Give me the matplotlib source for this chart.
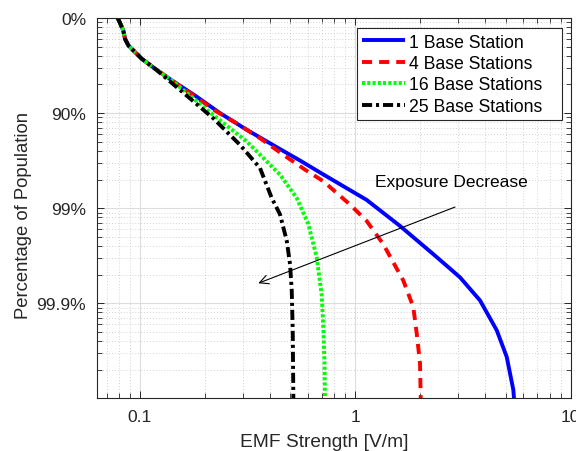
import matplotlib
matplotlib.use("Agg")
import matplotlib.pyplot as plt
import numpy as np
from matplotlib.ticker import NullFormatter, LogLocator

plt.rcParams['font.family'] = ['Liberation Sans', 'DejaVu Sans']

# EMF strength [V/m] and population percentile [%] per series
emf_1bs = [0.0788, 0.0806, 0.0837, 0.0853, 0.0884, 0.0949, 0.1019, 0.1175, 0.1405, 0.1802, 0.2353,
           0.3132, 0.4471, 0.5537, 0.6858, 1.129, 1.612, 2.302, 2.70, 3.063, 3.793, 4.534,
           5.045, 5.414, 5.455]
pct_1bs = [0, 10, 26.3, 39.7, 48.6, 56.2, 62.7, 70.7, 77.9, 84.7, 90.0,
           93.33, 95.82, 96.83, 97.63, 98.78, 99.35, 99.672, 99.76, 99.813, 99.893, 99.948,
           99.9727, 99.9877, 99.99]

emf_4bs = [0.0788, 0.0806, 0.0837, 0.0853, 0.0884, 0.0949, 0.1019, 0.1175, 0.1405, 0.1802, 0.2272,
           0.2815, 0.3610, 0.4632, 0.5841, 0.7101, 0.9449, 1.129, 1.349, 1.671, 1.859, 1.928,
           1.997, 2.012]
pct_4bs = [0, 10, 26.3, 39.7, 48.6, 56.2, 62.7, 70.7, 77.9, 85.06, 89.66,
           92.2, 94.56, 96.36, 97.46, 98.08, 98.91, 99.267, 99.583, 99.827, 99.909, 99.952,
           99.9767, 99.99]

emf_16bs = [0.0788, 0.0806, 0.0837, 0.0853, 0.0884, 0.0949, 0.1019, 0.1175, 0.1405, 0.2192,
            0.3132, 0.4471, 0.5342, 0.6050, 0.6620, 0.6983, 0.7101, 0.7194, 0.7233]
pct_16bs = [0, 10, 26.3, 39.7, 48.6, 56.2, 62.7, 70.7, 77.9, 90.47,
            94.97, 97.75, 98.72, 99.32, 99.697, 99.879, 99.944, 99.9767, 99.99]

emf_25bs = [0.0788, 0.0806, 0.0837, 0.0853, 0.0884, 0.0949, 0.1019, 0.1175, 0.1709, 0.2192,
            0.2915, 0.3610, 0.4091, 0.4471, 0.4805, 0.4976, 0.5068, 0.5123, 0.5156]
pct_25bs = [0, 10, 26.3, 39.7, 48.6, 56.2, 62.7, 70.7, 85.76, 91.2,
            95.37, 97.36, 98.72, 99.14, 99.547, 99.742, 99.864, 99.948, 99.99]

labels = ['1 Base Station', '4 Base Stations', '16 Base Stations', '25 Base Stations']
ytick_labels = ['0%', '90%', '99%', '99.9%']
ytick_pct = [0, 90, 99, 99.9]
xtick_vals = [0.1, 1, 10]
xtick_labels = ['0.1', '1', '10']

fig = plt.figure(figsize=(5.76, 4.52), dpi=100)
ax = fig.add_axes([97.3 / 576, 1 - 399.3 / 452, (570.7 - 97.3) / 576, (399.3 - 19) / 452])

def q(p):
    return 1 - np.asarray(p, dtype=float) / 100.0

lw = 2.8
pad = '   '
ax.plot(emf_1bs, q(pct_1bs), color=(0, 0, 1), lw=lw, solid_capstyle='butt', label=labels[0] + pad)
ax.plot(emf_4bs, q(pct_4bs), color=(1, 0, 0), lw=lw, dashes=(2.6, 1.8), label=labels[1])
ax.plot(emf_16bs, q(pct_16bs), color=(0, 1, 0), lw=lw, dashes=(0.8, 0.55), label=labels[2] + pad)
ax.plot(emf_25bs, q(pct_25bs), color='k', lw=lw, dashes=(2.6, 1.0, 0.8, 1.0), label=labels[3])

ax.set_xscale('log')
ax.set_yscale('log')

ax.set_yticks(q(ytick_pct))
ax.set_yticklabels(ytick_labels)
ax.yaxis.set_minor_locator(LogLocator(base=10, subs=np.arange(2, 10)))
ax.yaxis.set_minor_formatter(NullFormatter())
ax.set_xticks(xtick_vals)
ax.set_xticklabels(xtick_labels)
ax.xaxis.set_minor_locator(LogLocator(base=10, subs=np.arange(2, 10)))
ax.xaxis.set_minor_formatter(NullFormatter())
ax.set_xlim(0.0634, 10)
ax.set_ylim(1e-4, 1)

fs_tick = 12.5
fs_lab = 13.8
edge = '#262626'
for s in ax.spines.values():
    s.set_color(edge)
    s.set_linewidth(0.8)
ax.tick_params(which='both', direction='in', top=True, right=True, colors=edge,
               labelsize=fs_tick, labelcolor='#262626')
ax.tick_params(which='major', length=5, width=0.7, pad=8)
ax.tick_params(which='minor', length=3.5, width=0.6)

ax.grid(True, which='major', color='#dcdcdc', lw=0.8, ls='-')
ax.grid(True, which='minor', color='#c4c4c4', lw=0.6, ls=(0, (1, 2.5)))
ax.set_axisbelow(True)

ax.set_xlabel('EMF Strength [V/m]', fontsize=fs_lab, color='#262626')
ax.set_ylabel('Percentage of Population', fontsize=13.3, color='#262626')
ax.xaxis.set_label_coords((324 - 97.3) / 473.4, -(434.0 - 399.3) / 380.3)
ax.yaxis.set_label_coords((32.5 - 97.3) / 473.4, (399.3 - 215.8) / 380.3)

ax.annotate('', xy=(0.3545, 0.001622), xytext=(2.903, 0.01027),
            arrowprops=dict(arrowstyle='->', lw=0.8, color='k', mutation_scale=16,
                            shrinkA=0, shrinkB=0))
ax.text(1.235, 0.01888, 'Exposure Decrease', va='center', ha='left', fontsize=fs_tick, color='k')

leg = ax.legend(loc='upper right', bbox_to_anchor=(0.9816, 0.973), borderaxespad=0,
                fontsize=12.7, fancybox=False, framealpha=1, edgecolor=edge,
                handlelength=2.45, handletextpad=0.2, labelspacing=0.25, borderpad=0.3)
leg.get_frame().set_linewidth(0.8)

fig.savefig('out.png', dpi=100)
